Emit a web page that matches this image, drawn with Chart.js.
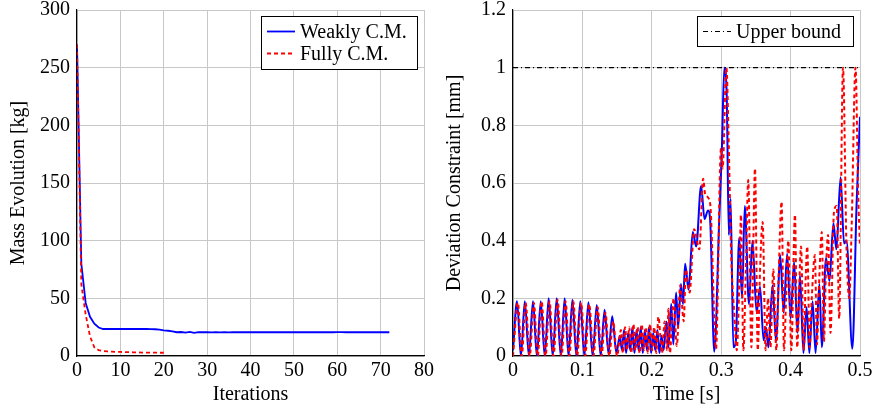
<!DOCTYPE html>
<html>
<head>
<meta charset="utf-8">
<script src="https://cdn.jsdelivr.net/npm/chart.js@4.4.1/dist/chart.umd.min.js"></script>
<style>
  body { margin: 0; background: #fff; }
  .box { position: absolute; top: 0; width: 436px; height: 412px; }
</style>
</head>
<body>
<div class="box" style="left:0"><canvas id="graph1" width="436" height="412"></canvas></div>
<div class="box" style="left:436px"><canvas id="graph2" width="436" height="412"></canvas></div>
<script>
// left plot -- mass per iteration //
const weakIter = [];
for (let i = 0; i <= 72; i++) weakIter.push(i);
const weakMass = [270, 80, 46, 34, 28, 24.7, 23.4, 23.4, 23.4, 23.4,
  23.4, 23.4, 23.4, 23.4, 23.4, 23.4, 23.4, 23.3, 23.2, 22.8,
  22.3, 21.9, 21.4, 20.6, 20.8, 20.2, 20.9, 20.0, 20.7, 20.6,
  20.7, 20.5, 20.7, 20.5, 20.7, 20.5, 20.7, 20.6, 20.6, 20.6,
  20.6, 20.6, 20.6, 20.6, 20.6, 20.6, 20.6, 20.6, 20.6, 20.6,
  20.6, 20.6, 20.6, 20.6, 20.6, 20.6, 20.6, 20.6, 20.6, 20.6,
  20.7, 20.7, 20.6, 20.6, 20.6, 20.6, 20.6, 20.6, 20.6, 20.6,
  20.6, 20.6, 20.6];
const fullIter = [];
for (let i = 0; i <= 20; i++) fullIter.push(i);
const fullMass = [270, 62, 36, 17, 7.5, 5, 4.3, 4, 3.8, 3.6,
  3.5, 3.4, 3.3, 3.2, 3.1, 3, 3, 2.9, 2.9, 2.8, 2.8];
const massTicks = [0, 50, 100, 150, 200, 250, 300];
const iterTicks = [0, 10, 20, 30, 40, 50, 60, 70, 80];

// right plot -- deviation over time //
const weakTime = [
  0.000, 0.0058, 0.0114, 0.0170, 0.0229, 0.0288, 0.0344, 0.0400, 0.0457, 0.0514,
  0.0572, 0.0630, 0.0688, 0.0745, 0.0800, 0.0856, 0.0913, 0.0970, 0.1028, 0.1087,
  0.1147, 0.1207, 0.1263, 0.1320, 0.1375, 0.1430, 0.1490, 0.1540, 0.1570, 0.1600,
  0.1630, 0.1660, 0.1690, 0.1720, 0.1750, 0.1780, 0.1810, 0.1840, 0.1870, 0.1900,
  0.1930, 0.1960, 0.1990, 0.2020, 0.2050, 0.2080, 0.2110, 0.2140, 0.2170, 0.2210,
  0.2240, 0.2280, 0.2310, 0.2350, 0.2380, 0.2420, 0.2450, 0.2480, 0.2530, 0.2590,
  0.2640, 0.2710, 0.2760, 0.2810, 0.2840, 0.2900, 0.2970, 0.3010, 0.3045, 0.3080,
  0.3110, 0.3135, 0.3175, 0.3210, 0.3260, 0.3300, 0.3340, 0.3400, 0.3450, 0.3510,
  0.3560, 0.3610, 0.3645, 0.3680, 0.3740, 0.3790, 0.3850, 0.3900, 0.3950, 0.4000,
  0.4050, 0.4100, 0.4135, 0.4185, 0.4230, 0.4270, 0.4317, 0.4360, 0.4415, 0.4450,
  0.4510, 0.4560, 0.4617, 0.4660, 0.4720, 0.4770, 0.4805, 0.4890, 0.4950, 0.5000];
const weakDev = [
  0.02, 0.19, 0.0, 0.19, 0.0, 0.19, 0.0, 0.19, 0.0, 0.2,
  0.0, 0.2, 0.0, 0.2, 0.0, 0.195, 0.0, 0.19, 0.0, 0.186,
  0.0, 0.177, 0.0, 0.16, 0.01, 0.138, 0.01, 0.07, 0.02, 0.09,
  0.01, 0.08, 0.02, 0.1, 0.01, 0.09, 0.02, 0.1, 0.01, 0.09,
  0.02, 0.1, 0.01, 0.08, 0.02, 0.09, 0.01, 0.07, 0.02, 0.12,
  0.03, 0.18, 0.04, 0.22, 0.1, 0.25, 0.18, 0.32, 0.23, 0.43,
  0.38, 0.59, 0.475, 0.505, 0.475, 0.015, 0.46, 0.72, 1.0, 0.9,
  0.42, 0.545, 0.03, 0.05, 0.41, 0.2, 0.52, 0.18, 0.40, 0.15,
  0.24, 0.055, 0.1, 0.03, 0.245, 0.05, 0.35, 0.15, 0.355, 0.13,
  0.326, 0.08, 0.28, 0.01, 0.17, 0.01, 0.19, 0.01, 0.25, 0.03,
  0.34, 0.26, 0.46, 0.37, 0.62, 0.39, 0.40, 0.025, 0.52, 0.83];
const fullTime = [
  0.000, 0.0070, 0.0126, 0.0182, 0.0241, 0.0300, 0.0356, 0.0412, 0.0469, 0.0526,
  0.0584, 0.0642, 0.0700, 0.0757, 0.0812, 0.0868, 0.0925, 0.0982, 0.1040, 0.1099,
  0.1159, 0.1219, 0.1275, 0.1332, 0.1387, 0.1442, 0.1500, 0.1555, 0.1585, 0.1615,
  0.1645, 0.1675, 0.1705, 0.1735, 0.1765, 0.1795, 0.1825, 0.1855, 0.1885, 0.1915,
  0.1945, 0.1975, 0.2005, 0.2035, 0.2065, 0.2095, 0.2147, 0.2185, 0.2220, 0.2240,
  0.2260, 0.2315, 0.2360, 0.2410, 0.2460, 0.2490, 0.2545, 0.2610, 0.2685, 0.2740,
  0.2770, 0.2840, 0.2925, 0.2997, 0.3020, 0.3075, 0.3110, 0.3144, 0.3190, 0.3225,
  0.3260, 0.3285, 0.3320, 0.3355, 0.3390, 0.3435, 0.3487, 0.3527, 0.3560, 0.3597,
  0.3640, 0.3675, 0.3710, 0.3750, 0.3795, 0.3830, 0.3870, 0.3905, 0.3935, 0.3967,
  0.4010, 0.4063, 0.4095, 0.4150, 0.4190, 0.4215, 0.4240, 0.4275, 0.4305, 0.4350,
  0.4380, 0.4410, 0.4450, 0.4480, 0.4510, 0.4540, 0.4575, 0.4625, 0.4665, 0.4700,
  0.4755, 0.4805, 0.4845, 0.4880, 0.4935, 0.4975, 0.5000];
const fullDev = [
  0.0, 0.185, 0.0, 0.185, 0.0, 0.185, 0.0, 0.19, 0.0, 0.19,
  0.0, 0.195, 0.0, 0.19, 0.0, 0.19, 0.0, 0.185, 0.0, 0.18,
  0.0, 0.17, 0.0, 0.15, 0.0, 0.12, 0.0, 0.09, 0.01, 0.1,
  0.02, 0.1, 0.01, 0.11, 0.02, 0.1, 0.01, 0.11, 0.02, 0.1,
  0.01, 0.11, 0.02, 0.1, 0.01, 0.136, 0.01, 0.12, 0.02, 0.164,
  0.01, 0.2, 0.035, 0.245, 0.12, 0.3, 0.22, 0.44, 0.37, 0.615,
  0.56, 0.53, 0.025, 0.72, 0.65, 1.0, 0.72, 0.35, 0.14, 0.02,
  0.25, 0.49, 0.02, 0.3, 0.61, 0.03, 0.65, 0.02, 0.3, 0.465,
  0.02, 0.2, 0.03, 0.3, 0.02, 0.3, 0.535, 0.02, 0.2, 0.40,
  0.02, 0.49, 0.03, 0.38, 0.02, 0.25, 0.38, 0.03, 0.2, 0.35,
  0.04, 0.25, 0.43, 0.05, 0.3, 0.42, 0.08, 0.5, 0.52, 0.13,
  1.0, 0.38, 0.2, 0.45, 1.0, 0.55, 0.38];
const boundTime = [0, 0.5];
const boundDev = [1, 1];
const devTicks = [0, 0.2, 0.4, 0.6, 0.8, 1, 1.2];
const timeTicks = [0, 0.1, 0.2, 0.3, 0.4, 0.5];

const serif = 'Liberation Serif';
const gridGray = '#c8c8c8';

function pts(xs, ys) {
    return xs.map((x, i) => ({x: x, y: ys[i]}));
}

// legend box drawn inside the plot like pgfplots does
function boxLegend(id, box, items) {
    return {
        id: id,
        afterDraw(chart) {
            const ctx = chart.ctx;
            ctx.save();
            ctx.fillStyle = '#fff';
            ctx.fillRect(box.x, box.y, box.w, box.h);
            ctx.strokeStyle = '#000';
            ctx.lineWidth = 1;
            ctx.setLineDash([]);
            ctx.strokeRect(box.x + 0.5, box.y + 0.5, box.w, box.h);
            items.forEach(function (it, i) {
                const y = box.y + 15.5 + i * 22;
                ctx.strokeStyle = it.color;
                ctx.lineWidth = it.width;
                ctx.setLineDash(it.dash);
                ctx.beginPath();
                ctx.moveTo(box.x + 6, y);
                ctx.lineTo(box.x + 34, y);
                ctx.stroke();
                ctx.setLineDash([]);
                ctx.fillStyle = '#000';
                ctx.font = '20px "' + serif + '"';
                ctx.textBaseline = 'middle';
                ctx.fillText(it.text, box.x + 39, y + 1);
            });
            ctx.restore();
        }
    };
}

function axis(min, max, ticks, title, isY) {
    return {
        type: 'linear',
        min: min,
        max: max,
        afterBuildTicks: function (s) { s.ticks = ticks.map(v => ({value: v})); },
        afterFit: function (s) {
            if (isY) {
                s.width = 77;
                s.paddingTop = 0;
                s.paddingBottom = 0;
            } else {
                s.height = 56;
                s.paddingLeft = 0;
                s.paddingRight = 0;
            }
        },
        ticks: {
            color: '#000',
            padding: isY ? 7 : 3,
            font: {family: serif, size: 20},
            callback: function (v) { return String(v); }
        },
        grid: {
            color: gridGray,
            lineWidth: 1,
            drawTicks: false
        },
        border: {color: '#000', width: 1.2},
        title: {
            display: true,
            text: title,
            color: '#000',
            font: {family: serif, size: 20},
            padding: isY ? {top: 7, bottom: 0} : {top: 0, bottom: 5}
        }
    };
}

function baseOptions(xAxis, yAxis) {
    return {
        responsive: false,
        animation: false,
        devicePixelRatio: 1,
        layout: {padding: {top: 10, right: 12, left: 0, bottom: 0}},
        plugins: {
            legend: {display: false},
            tooltip: {enabled: false}
        },
        elements: {point: {radius: 0}},
        scales: {x: xAxis, y: yAxis}
    };
}

new Chart(document.getElementById('graph1'), {
    type: 'line',
    data: {
        datasets: [{
            label: 'Weakly C.M.',
            data: pts(weakIter, weakMass),
            borderColor: '#0000ff',
            borderWidth: 1.8,
            order: 2
        }, {
            label: 'Fully C.M.',
            data: pts(fullIter, fullMass),
            borderColor: '#ff0000',
            borderWidth: 1.8,
            borderDash: [4, 3],
            order: 1
        }]
    },
    options: baseOptions(
        axis(0, 80, iterTicks, 'Iterations', false),
        axis(0, 300, massTicks, 'Mass Evolution [kg]', true)
    ),
    plugins: [boxLegend('legendLeft', {x: 261, y: 16, w: 156, h: 53}, [
        {text: 'Weakly C.M.', color: '#0000ff', width: 1.8, dash: []},
        {text: 'Fully C.M.', color: '#ff0000', width: 1.8, dash: [4, 3]}
    ])]
});

new Chart(document.getElementById('graph2'), {
    type: 'line',
    data: {
        datasets: [{
            label: 'Weakly C.M.',
            data: pts(weakTime, weakDev),
            borderColor: '#0000ff',
            borderWidth: 2,
            cubicInterpolationMode: 'monotone',
            order: 2
        }, {
            label: 'Fully C.M.',
            data: pts(fullTime, fullDev),
            borderColor: '#ff0000',
            borderWidth: 2,
            borderDash: [4, 3],
            cubicInterpolationMode: 'monotone',
            order: 1
        }, {
            label: 'Upper bound',
            data: pts(boundTime, boundDev),
            borderColor: '#000',
            borderWidth: 1.2,
            borderDash: [5, 3, 1, 3],
            order: 0
        }]
    },
    options: baseOptions(
        axis(0, 0.5, timeTicks, 'Time [s]', false),
        axis(0, 1.2, devTicks, 'Deviation Constraint [mm]', true)
    ),
    plugins: [boxLegend('legendRight', {x: 261, y: 16, w: 156, h: 30}, [
        {text: 'Upper bound', color: '#000', width: 1.2, dash: [5, 3, 1, 3]}
    ])]
});
</script>
</body>
</html>
